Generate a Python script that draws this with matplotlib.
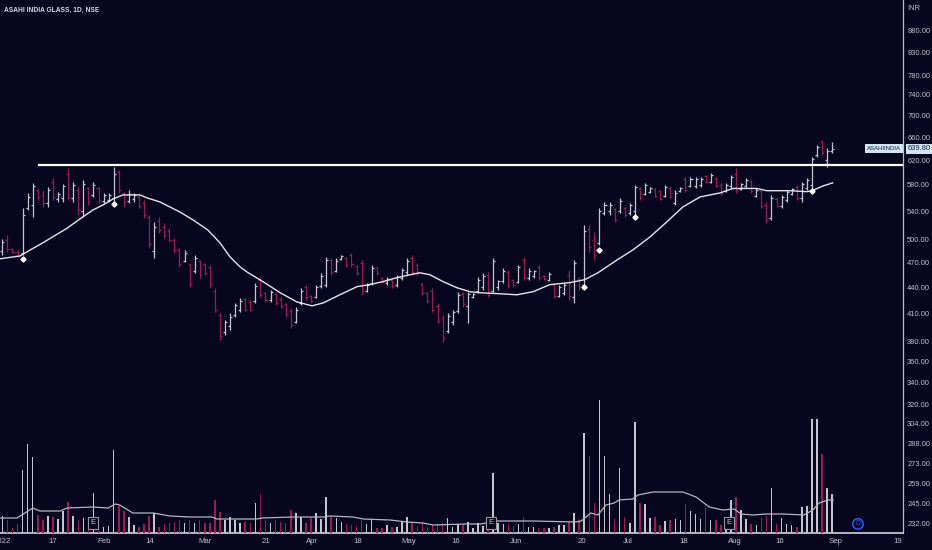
import numpy as np
import matplotlib.pyplot as plt
import matplotlib.transforms as mtransforms
from matplotlib.ticker import NullLocator, NullFormatter

plt.rcParams['font.family'] = ['Liberation Sans', 'DejaVu Sans']

BG = '#06061f'
UP = '#c3c6d0'
DOWN = '#9b1d52'
TXT = '#c0c3cc'

# daily OHLC, trading days from 3 Jan 2022 to 30 Aug 2022
opens = [485, 500, 488, 484, 482, 545, 550, 572, 565, 552, 585, 558, 560, 598, 560, 572, 540, 575, 565, 575,
         555, 557, 560, 600, 568, 556, 558, 562, 552, 532, 485, 526, 518, 512, 500, 486, 472, 468, 460, 472,
         468, 464, 436, 408, 390, 396, 408, 414, 426, 423, 424, 449, 433, 425, 432, 426, 420, 412, 400, 421,
         440, 430, 428, 441, 443, 474, 460, 475, 476, 480, 466, 470, 436, 445, 464, 451, 445, 448, 442, 451,
         458, 476, 467, 444, 433, 436, 418, 405, 391, 400, 413, 432, 418, 428, 435, 440, 455, 436, 440, 447,
         458, 448, 446, 474, 451, 453, 464, 454, 448, 443, 430, 433, 455, 428, 450, 442, 515, 500, 496, 538,
         540, 544, 540, 545, 537, 540, 574, 566, 569, 574, 570, 563, 575, 552, 570, 590, 578, 578, 580, 594,
         585, 591, 580, 570, 578, 598, 574, 579, 586, 563, 570, 550, 530, 559, 548, 557, 566, 577, 560, 575,
         580, 628, 652, 620, 636]
highs = [501, 507, 489, 486, 545, 567, 583, 574, 572, 577, 591, 569, 582, 607, 585, 577, 588, 577, 585, 577,
         567, 567, 609, 604, 569, 572, 567, 564, 557, 535, 525, 532, 523, 516, 503, 489, 486, 470, 480, 474,
         470, 467, 439, 410, 403, 410, 422, 427, 427, 425, 445, 452, 434, 437, 434, 428, 422, 416, 417, 439,
         443, 431, 443, 457, 477, 476, 476, 480, 477, 482, 467, 474, 445, 467, 465, 452, 452, 449, 455, 463,
         476, 480, 470, 445, 434, 439, 421, 408, 410, 414, 434, 434, 434, 433, 452, 457, 458, 476, 449, 463,
         461, 450, 467, 477, 463, 461, 467, 455, 458, 445, 443, 445, 461, 474, 452, 521, 521, 511, 545, 554,
         554, 545, 560, 546, 552, 580, 577, 583, 577, 575, 572, 580, 577, 572, 577, 593, 593, 593, 593, 596,
         599, 593, 583, 583, 596, 607, 583, 591, 588, 575, 572, 554, 564, 561, 564, 572, 575, 580, 585, 591,
         625, 646, 655, 641, 651]
lows = [480, 484, 483, 477, 480, 542, 532, 557, 546, 546, 557, 554, 554, 557, 554, 535, 532, 549, 561, 552,
        552, 554, 554, 567, 546, 552, 554, 545, 530, 489, 476, 510, 503, 497, 483, 465, 471, 440, 457, 451,
        455, 440, 411, 381, 387, 392, 406, 411, 412, 412, 421, 428, 423, 423, 419, 416, 406, 394, 399, 419,
        425, 422, 427, 439, 440, 455, 458, 474, 465, 465, 455, 431, 434, 443, 455, 445, 443, 439, 440, 449,
        455, 455, 455, 431, 422, 411, 399, 379, 389, 397, 410, 417, 399, 427, 433, 437, 428, 434, 437, 445,
        439, 440, 445, 449, 449, 451, 449, 449, 447, 427, 428, 431, 425, 422, 437, 440, 484, 474, 493, 535,
        535, 525, 538, 532, 535, 535, 557, 564, 567, 561, 557, 561, 560, 549, 569, 569, 577, 575, 577, 583,
        583, 577, 564, 569, 575, 567, 572, 577, 567, 561, 545, 523, 528, 546, 545, 554, 564, 557, 554, 572,
        572, 625, 629, 609, 632]
closes = [497, 488, 484, 479, 535, 562, 578, 562, 552, 572, 562, 566, 578, 562, 580, 542, 582, 556, 580, 556,
          565, 565, 598, 572, 552, 566, 564, 548, 535, 495, 518, 513, 506, 500, 486, 468, 483, 444, 476, 455,
          457, 444, 414, 386, 400, 406, 419, 424, 414, 414, 441, 431, 425, 434, 421, 418, 409, 397, 414, 436,
          428, 424, 440, 454, 474, 458, 472, 479, 467, 468, 457, 438, 443, 463, 457, 446, 450, 441, 452, 461,
          472, 458, 457, 433, 424, 414, 402, 383, 407, 411, 431, 420, 432, 432, 449, 454, 431, 472, 447, 460,
          442, 442, 464, 452, 460, 459, 451, 450, 456, 429, 440, 443, 430, 470, 440, 512, 490, 480, 540, 550,
          550, 528, 556, 535, 549, 576, 560, 580, 575, 563, 559, 577, 562, 568, 575, 572, 590, 590, 590, 585,
          596, 579, 567, 580, 593, 572, 581, 588, 570, 572, 548, 528, 560, 548, 561, 569, 573, 560, 581, 588,
          622, 643, 632, 636, 639.8]

# volume, thousand shares
volume = [340, 260, 100, 180, 1260, 1780, 1520, 360, 260, 340, 320, 280, 440, 620, 340, 260, 300, 320, 800, 120,
          120, 140, 1660, 540, 440, 320, 160, 120, 180, 340, 400, 120, 180, 200, 220, 260, 200, 260, 200, 260,
          200, 200, 660, 420, 260, 320, 260, 200, 220, 200, 600, 780, 260, 200, 260, 220, 200, 460, 400, 320,
          200, 300, 400, 280, 720, 320, 300, 220, 180, 160, 140, 260, 180, 280, 100, 100, 160, 120, 120, 240,
          320, 200, 140, 200, 120, 160, 180, 200, 300, 120, 180, 160, 220, 100, 200, 140, 160, 1200, 200, 180,
          180, 140, 180, 320, 120, 120, 100, 100, 100, 120, 160, 160, 220, 400, 260, 2000, 1540, 600, 2660, 1540,
          780, 280, 1300, 320, 200, 2220, 600, 580, 300, 320, 160, 240, 260, 280, 260, 580, 440, 380, 280, 520,
          260, 260, 160, 160, 660, 720, 460, 280, 180, 160, 300, 340, 900, 180, 300, 180, 160, 120, 520, 540,
          2280, 2280, 1580, 900, 780]

# moving average of close
ma_x = [-0.5, 3.5, 5.5, 8.0, 12.8, 15.9, 17.9, 19.9, 21.9, 23.8, 27.2, 28.6, 31.1, 35.1, 37.7, 40.6, 43.0,
        45.0, 47.0, 48.3, 51.5, 54.9, 58.2, 61.2, 63.4, 66.7, 70.1, 72.6, 75.2, 78.0, 80.6, 82.5, 84.5, 87.1,
        89.8, 92.4, 94.4, 98.3, 101.7, 104.9, 108.2, 112.2, 115.1, 117.7, 121.5, 124.6, 128.0, 131.3, 134.5,
        137.9, 141.8, 144.4, 149.1, 151.1, 155.6, 159.0, 160.0, 162.2, 164.1]
ma_vals = [475, 478.7, 486.5, 496, 516, 532, 542, 549.5, 558.5, 564.5, 564.5, 560, 554, 539, 527.6, 513.5, 496,
           477.4, 464.6, 458.6, 446.6, 433.4, 422.8, 418.3, 421.6, 431, 440.6, 443, 446.6, 451.4, 455, 457.4, 455,
           446.6, 439.4, 434.6, 433.4, 432.2, 431, 434.6, 443, 445.4, 449, 457.4, 473.6, 486.5, 503.9, 524.8,
           546.5, 561.5, 567.5, 574.5, 574.5, 571, 571, 569.5, 571, 578.4, 583.2]

# volume moving average
vma_x = [-0.5, 2.9, 6.0, 7.4, 11.4, 12.8, 17.9, 20.9, 22.3, 23.2, 25.8, 29.8, 33.1, 37.1, 41.4, 42.4, 50.3,
         51.3, 57.4, 63.4, 64.7, 69.3, 71.3, 76.6, 80.0, 83.1, 85.1, 91.6, 94.6, 97.5, 104.9, 113.4, 114.4,
         116.3, 117.7, 119.3, 120.9, 121.9, 124.6, 125.6, 128.6, 134.5, 137.1, 139.7, 142.4, 144.6, 146.0,
         148.3, 150.9, 154.3, 158.4, 160.2, 161.4, 163.2, 164.2]
vma_vals = [300, 300, 500, 440, 440, 500, 520, 500, 580, 560, 400, 400, 340, 320, 320, 280, 280, 300, 320, 320,
            340, 320, 280, 260, 220, 200, 160, 180, 180, 240, 240, 220, 240, 400, 360, 560, 600, 660, 680, 760,
            820, 820, 720, 520, 460, 480, 380, 360, 380, 380, 360, 460, 600, 660, 660]

signal_x = [4, 22, 115, 118, 125, 160]
signal_y = [475, 551, 440, 486.5, 532, 571]
resistance = 612
last_price = 639.8

price_ticks = [232, 245, 259, 273, 288, 304, 320, 340, 360, 380, 410, 440, 470, 500, 540, 580, 620, 660,
               700, 740, 780, 830, 880]
date_pos = [0.0, 10.0, 20.1, 29.2, 40.0, 52.1, 61.2, 70.3, 80.4, 89.5, 101.5, 114.5, 123.6, 134.7, 144.8,
            153.7, 164.7, 177.0]
date_labels = ['2022', '17', 'Feb', '14', 'Mar', '21', 'Apr', '18', 'May', '16', 'Jun', '20', 'Jul', '18',
               'Aug', '16', 'Sep', '19']
earnings_x = [17.9, 96.6, 143.6]
dividend_x = 169.1

fig = plt.figure(figsize=(9.32, 5.5), dpi=100, facecolor=BG)
ax = fig.add_axes([0, 17 / 550, 903 / 932, 533 / 550])
ax.set_facecolor(BG)

# volume pane shares the x axis
ax2 = ax.twinx()

x = np.arange(len(closes))
colors = [UP if c >= o else DOWN for o, c in zip(opens, closes)]
ax.vlines(x, lows, highs, colors=colors, lw=0.9)
ax.hlines(opens, x - 0.4, x, colors=colors, lw=0.9)
ax.hlines(closes, x, x + 0.4, colors=colors, lw=0.9)
ax.plot(ma_x, ma_vals, color='#e4e4ec', lw=1.0)
ax.hlines(resistance, 7, 178, color='white', lw=1.6)
ax.plot(signal_x, signal_y, 'D', color='white', ms=2.6, ls='none')

ax.set_yscale('log')
ax.set_ylim(226.4, 956)
ax.set_xlim(-0.47, 178)
ax.set_yticks(price_ticks, labels=[f'{v:.2f}' for v in price_ticks])
ax.yaxis.set_minor_locator(NullLocator())
ax.yaxis.set_minor_formatter(NullFormatter())
ax.yaxis.tick_right()
ax.set_xticks(date_pos, labels=date_labels)
ax.tick_params(axis='both', length=0, colors=TXT)
ax.tick_params(axis='y', pad=3, labelsize=5.4, labelright=True, labelleft=False)
ax.tick_params(axis='x', pad=3.5, labelsize=5.6)
for s in ['top', 'left']:
    ax.spines[s].set_visible(False)
ax.spines['right'].set_color('#b8bac4')
ax.spines['bottom'].set_color('#d0d2da')
ax.spines['right'].set_linewidth(0.9)
ax.spines['bottom'].set_linewidth(1.2)

ax2.bar(x, volume, width=0.3, color=colors)
ax2.plot(vma_x, vma_vals, color='#b4b6c0', lw=0.9)
ax2.set_ylim(0, 533 * 20)
ax2.set_yticks([])
for s in ax2.spines.values():
    s.set_visible(False)

tr = mtransforms.blended_transform_factory(ax2.transData, ax2.transAxes)
for ex in earnings_x:
    ax2.text(ex, 0.019, 'E', transform=tr, ha='center', va='center', fontsize=5.5, color=TXT,
             bbox=dict(boxstyle='square,pad=0.3', fc=BG, ec='#9598a1', lw=0.8))
ax2.text(dividend_x, 0.017, 'D', transform=tr, ha='center', va='center', fontsize=5, color='#2962ff',
         bbox=dict(boxstyle='circle,pad=0.25', fc=BG, ec='#2962ff', lw=1.0))

# last price labels
tr2 = mtransforms.blended_transform_factory(ax.transAxes, ax.transData)
ax.text(0.9975, last_price, 'ASAHIINDIA', transform=tr2, ha='right', va='center', fontsize=4.3,
        color='#10204a', bbox=dict(boxstyle='square,pad=0.35', fc='#cfe6f4', ec='none'))
ax.text(1.005, last_price, '639.80', transform=tr2, ha='left', va='center', fontsize=5.4, clip_on=False,
        color='#10204a', bbox=dict(boxstyle='square,pad=0.2', fc='#cfe6f4', ec='none'))

fig.text(4 / 932, 1 - 10 / 550, 'ASAHI INDIA GLASS, 1D, NSE', fontsize=4.8, color='#d8dae2',
         va='center', weight='bold')
fig.text(907 / 932, 1 - 8 / 550, 'INR', fontsize=5.4, color=TXT, va='center')

fig.savefig('out.png', dpi=100, facecolor=BG)
